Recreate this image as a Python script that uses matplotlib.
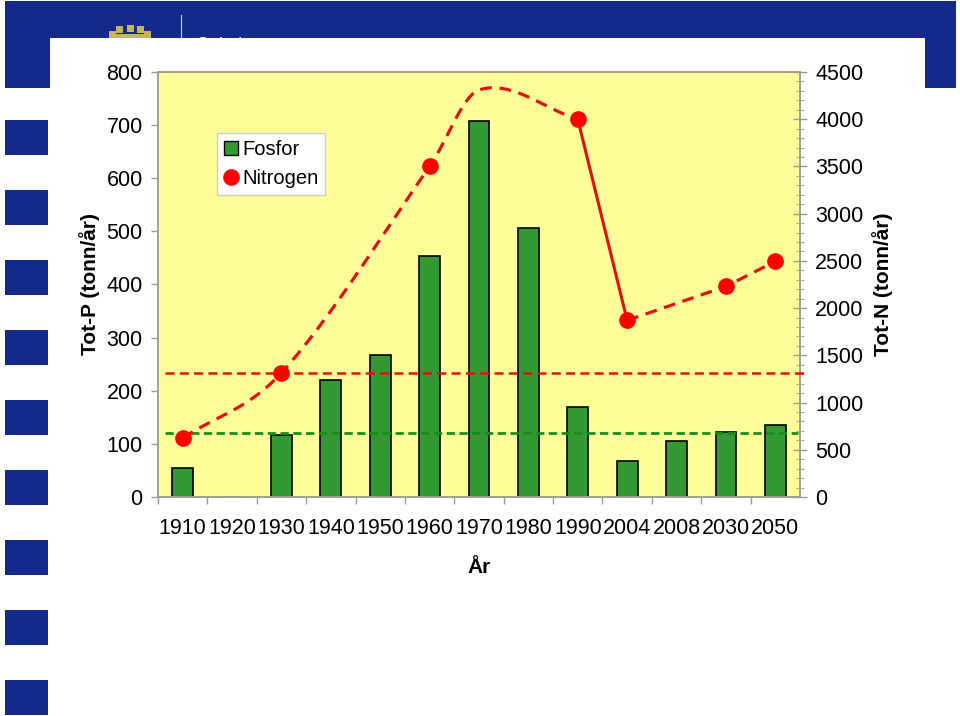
import numpy as np
import matplotlib
matplotlib.use("Agg")
import matplotlib.pyplot as plt
from matplotlib.patches import Rectangle, Wedge
from matplotlib.lines import Line2D
from matplotlib.ticker import MultipleLocator

plt.rcParams['font.family'] = ['Liberation Sans', 'DejaVu Sans']
plt.rcParams['lines.scale_dashes'] = False

# ---------------- data ----------------
years = ['1910', '1920', '1930', '1940', '1950', '1960', '1970',
         '1980', '1990', '2004', '2008', '2030', '2050']
fosfor = [55, 0, 116, 221, 267, 454, 708, 507, 170, 68, 105, 122, 136]

# nitrogen points with markers
n_years = ['1910', '1930', '1960', '1990', '2004', '2030', '2050']
nitrogen = [625, 1315, 3500, 4000, 1870, 2230, 2495]

# estimated (dashed, smoothed) historic curve, incl. unmarked 1970 estimate
n_est_years = ['1910', '1930', '1960', '1970', '1990']
n_est_vals = [625, 1315, 3500, 4310, 4000]
# measured (solid) segment
n_meas_years = ['1990', '2004']
n_meas_vals = [4000, 1870]
# future scenarios (dashed)
n_fut_years = ['2004', '2030', '2050']
n_fut_vals = [1870, 2230, 2495]

p_ref = 121     # green dashed reference (Tot-P)
n_ref = 1315    # red dashed reference (Tot-N)

p_ticks = [0, 100, 200, 300, 400, 500, 600, 700, 800]
n_ticks = [0, 500, 1000, 1500, 2000, 2500, 3000, 3500, 4000, 4500]

# --------------- helpers ---------------
W, H = 960, 716
def fx(px): return px / W
def fy(py): return 1 - py / H

pos = {y: i for i, y in enumerate(years)}

def hermite(xs, ys, n=60):
    xs = np.asarray(xs, float); ys = np.asarray(ys, float)
    m = np.zeros_like(ys)
    m[0] = (ys[1] - ys[0]) / (xs[1] - xs[0])
    m[-1] = (ys[-1] - ys[-2]) / (xs[-1] - xs[-2])
    for i in range(1, len(xs) - 1):
        m[i] = (ys[i + 1] - ys[i - 1]) / (xs[i + 1] - xs[i - 1])
    ox, oy = [], []
    for i in range(len(xs) - 1):
        h = xs[i + 1] - xs[i]
        t = np.linspace(0, 1, n)
        h00 = 2 * t**3 - 3 * t**2 + 1
        h10 = t**3 - 2 * t**2 + t
        h01 = -2 * t**3 + 3 * t**2
        h11 = t**3 - t**2
        ox.append(xs[i] + t * h)
        oy.append(h00 * ys[i] + h10 * h * m[i] + h01 * ys[i + 1] + h11 * h * m[i + 1])
    return np.concatenate(ox), np.concatenate(oy)

# --------------- figure ---------------
fig = plt.figure(figsize=(9.6, 7.16), dpi=100)
fig.patch.set_facecolor('white')

blue = '#132a8c'
gold = '#c8b455'
# slide template
fig.patches.append(Rectangle((fx(5), fy(88)), fx(956) - fx(5), fy(1) - fy(88),
                             transform=fig.transFigure, facecolor=blue, edgecolor='none', zorder=0))
# logo crown (decorative)
for k in range(5):
    ang = np.pi * (0.15 + 0.7 * k / 4)
    cx = 130 - 20 * np.cos(ang)
    cy = 40 - 12 * np.sin(ang)
    fig.patches.append(Rectangle((fx(cx - 3.5), fy(cy + 3.5)), fx(7), 7 / H,
                                 transform=fig.transFigure, facecolor=gold,
                                 edgecolor='none', zorder=1))
fig.patches.append(Rectangle((fx(110), fy(40)), fx(40), 6 / H,
                             transform=fig.transFigure, facecolor=gold,
                             edgecolor='none', zorder=1))
fig.lines.append(Line2D([fx(181), fx(181)], [fy(15), fy(40)], transform=fig.transFigure,
                        color='#d0d4e8', lw=0.8, zorder=1))
fig.text(fx(196), fy(50), 'Oslo kommune', color='white', fontsize=13,
         ha='left', va='baseline', zorder=1)
# white panel
fig.patches.append(Rectangle((fx(50), 0), fx(925) - fx(50), fy(38),
                             transform=fig.transFigure, facecolor='white',
                             edgecolor='none', zorder=2))
# left squares
for k in range(9):
    top = 120 + 70 * k
    fig.patches.append(Rectangle((fx(5), fy(top + 35)), fx(43), 35 / H,
                                 transform=fig.transFigure, facecolor=blue,
                                 edgecolor='none', zorder=2))

# axes
ax = fig.add_axes([fx(158), fy(497), fx(800) - fx(158), (497 - 72) / H])
ax.set_zorder(3)
ax.set_facecolor('#ffff99')
x = np.arange(len(years))
ax.bar(x, fosfor, width=0.42, color='#339933', edgecolor='black', linewidth=1.2,
       zorder=2, label='Fosfor')
ax.set_xlim(-0.5, len(years) - 0.5)
ax.set_ylim(0, 800)
ax.set_yticks(p_ticks)
ax.set_xticks(x)
ax.set_xticklabels(years)
ax.set_xticks(x - 0.5, minor=True)
ax.tick_params(axis='x', which='major', length=0, pad=15, labelsize=15.5)
ax.tick_params(axis='x', which='minor', length=5, direction='out', color='#999999', width=1)
ax.tick_params(axis='y', which='major', length=5, direction='out', color='#999999',
               width=1, pad=6, labelsize=15.5)
for s in ax.spines.values():
    s.set_color('#a0a090')
    s.set_linewidth(1.4)

ax.set_ylabel('Tot-P (tonn/år)', fontsize=15, fontweight='bold', labelpad=5)
ax.set_xlabel('År', fontsize=15, fontweight='bold', labelpad=14)

ax.axhline(p_ref, xmin=0.011, xmax=0.997, color='#1c8c1c', lw=2,
           dashes=(6, 3.2), zorder=6)

ax2 = ax.twinx()
ax2.set_ylim(0, 4500)
ax2.set_yticks(n_ticks)
ax2.yaxis.set_minor_locator(MultipleLocator(100))
ax2.tick_params(axis='y', which='major', length=10, direction='inout', color='#999999',
                width=1, pad=6, labelsize=15.5)
ax2.tick_params(axis='y', which='minor', length=6, direction='inout', color='#aaaaaa', width=0.8)
for s in ax2.spines.values():
    s.set_visible(False)
ax2.set_ylabel('Tot-N (tonn/år)', fontsize=15, fontweight='bold', labelpad=6)

red = '#e41010'
ax2.axhline(n_ref, xmin=0.011, xmax=1.0125, color=red, lw=1.8, dashes=(6.5, 3.8),
            clip_on=False, zorder=4)

cx, cy = hermite([pos[y] for y in n_est_years], n_est_vals)
ax2.plot(cx, cy, color=red, lw=2.3, dashes=(8.5, 5.5), zorder=4)
ax2.plot([pos[y] for y in n_meas_years], n_meas_vals, color=red, lw=2.2, zorder=4)
ax2.plot([pos[y] for y in n_fut_years], n_fut_vals, color=red, lw=2.3,
         dashes=(8.5, 5.5), zorder=4)
ax2.plot([pos[y] for y in n_years], nitrogen, linestyle='none', marker='o',
         markersize=11, color='#ff0000', zorder=5)

handles = [Line2D([], [], linestyle='none', marker='s', markersize=10,
                  markerfacecolor='#339933', markeredgecolor='black', markeredgewidth=1),
           Line2D([], [], linestyle='none', marker='o', markersize=11, color='#ff0000')]
leg = ax2.legend(handles, ['Fosfor', 'Nitrogen'], loc='upper left',
                 bbox_to_anchor=((217 - 158) / 642, (497 - 133) / 425),
                 borderaxespad=0, fontsize=14.5, frameon=True, fancybox=False,
                 handlelength=0.7, handletextpad=0.2, labelspacing=0.5,
                 borderpad=0.35, edgecolor='#cccccc', framealpha=1)
leg.get_frame().set_linewidth(1)

fig.savefig('out.png', dpi=100)
